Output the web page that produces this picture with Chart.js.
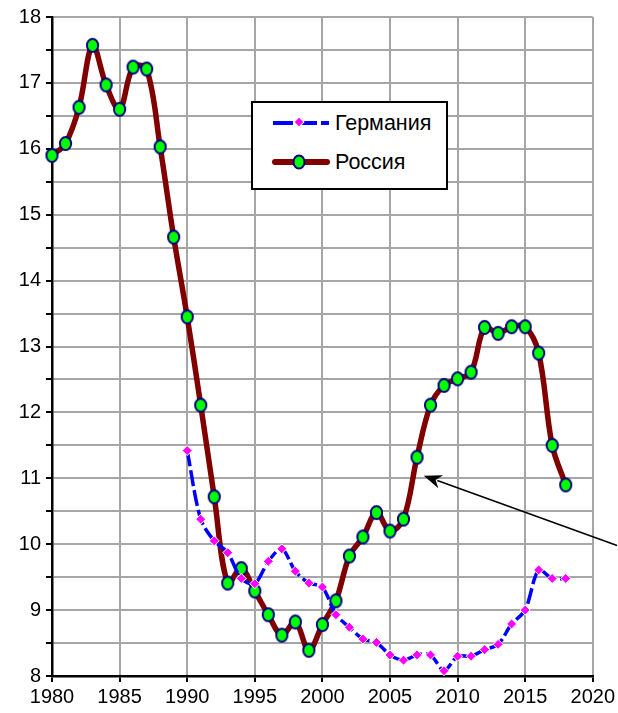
<!DOCTYPE html>
<html>
<head>
<meta charset="utf-8">
<script src="https://cdn.jsdelivr.net/npm/chart.js@4.4.1/dist/chart.umd.min.js"></script>
<style>
  html, body { margin: 0; padding: 0; background: #fff; }
  #wrap { position: relative; width: 618px; height: 713px; }
  #legend {
    position: absolute; left: 251px; top: 101px; width: 193px; height: 85px;
    border: 2px solid #000; background: #fff;
    font-family: "Liberation Sans", Arial, sans-serif; font-size: 21.5px; color: #000;
  }
  #legend .row { position: absolute; left: 0; height: 26px; display: flex; align-items: center; }
  #legend svg { margin-left: 19px; margin-right: 5px; }
</style>
</head>
<body>
<div id="wrap">
  <canvas id="chart" width="618" height="713"></canvas>
  <div id="legend">
    <div class="row" style="top:7px">
      <svg width="58" height="14"><line x1="1" y1="7" x2="57" y2="7" stroke="#0000ff" stroke-width="4" stroke-dasharray="20,4"/><rect x="23.5" y="2.5" width="7" height="7" fill="#ff00ff" stroke="#fff" stroke-width="1" transform="rotate(45 27 6)"/></svg>
      <span>Германия</span>
    </div>
    <div class="row" style="top:46px">
      <svg width="58" height="16"><line x1="3" y1="8" x2="55" y2="8" stroke="#800000" stroke-width="6" stroke-linecap="round"/><ellipse cx="27" cy="8" rx="5.5" ry="6.5" fill="#00ff00" stroke="#000080" stroke-width="2"/></svg>
      <span>Россия</span>
    </div>
  </div>
</div>
<script>
const russiaYears = [1980, 1981, 1982, 1983, 1984, 1985, 1986, 1987, 1988, 1989,
  1990, 1991, 1992, 1993, 1994, 1995, 1996, 1997, 1998, 1999,
  2000, 2001, 2002, 2003, 2004, 2005, 2006, 2007, 2008, 2009,
  2010, 2011, 2012, 2013, 2014, 2015, 2016, 2017, 2018];
const russiaValues = [15.90, 16.08, 16.63, 17.57, 16.97, 16.60, 17.24, 17.21, 16.03, 14.66,
  13.45, 12.11, 10.72, 9.41, 9.63, 9.29, 8.93, 8.62, 8.82, 8.39,
  8.78, 9.14, 9.82, 10.11, 10.48, 10.20, 10.38, 11.32, 12.11, 12.41,
  12.51, 12.61, 13.29, 13.20, 13.30, 13.30, 12.90, 11.50, 10.90];

const germanyYears = [1990, 1991, 1992, 1993, 1994, 1995, 1996, 1997, 1998, 1999,
  2000, 2001, 2002, 2003, 2004, 2005, 2006, 2007, 2008, 2009,
  2010, 2011, 2012, 2013, 2014, 2015, 2016, 2017, 2018];
const germanyValues = [11.42, 10.38, 10.05, 9.87, 9.48, 9.40, 9.74, 9.93, 9.59, 9.41,
  9.35, 8.93, 8.74, 8.56, 8.51, 8.32, 8.24, 8.32, 8.32, 8.08,
  8.30, 8.30, 8.40, 8.48, 8.79, 9.00, 9.61, 9.48, 9.48];

const yTickLabels = [8, 9, 10, 11, 12, 13, 14, 15, 16, 17, 18];
const xTickLabels = [1980, 1985, 1990, 1995, 2000, 2005, 2010, 2015, 2020];

// arrow annotation, in data units (tail runs off the right edge)
const arrowHead = { x: 2007.5, y: 11.04 };
const arrowTail = { x: 2021.8, y: 9.98 };

function toPoints(xs, ys) {
  return xs.map((x, i) => ({ x: x, y: ys[i] }));
}

// green ellipse marker for Russia
const dot = document.createElement('canvas');
dot.width = 15; dot.height = 17;
(function () {
  const c = dot.getContext('2d');
  c.beginPath();
  c.ellipse(7.5, 8.5, 5.6, 6.6, 0, 0, Math.PI * 2);
  c.fillStyle = '#00ff00';
  c.fill();
  c.lineWidth = 2;
  c.strokeStyle = '#000080';
  c.stroke();
})();

const arrowPlugin = {
  id: 'arrow',
  afterDatasetsDraw(chart) {
    const ctx = chart.ctx;
    const xs = chart.scales.x, ys = chart.scales.y;
    const hx = xs.getPixelForValue(arrowHead.x), hy = ys.getPixelForValue(arrowHead.y);
    const tx = xs.getPixelForValue(arrowTail.x), ty = ys.getPixelForValue(arrowTail.y);
    const ang = Math.atan2(hy - ty, hx - tx);
    const len = 18, wid = 7;
    ctx.save();
    ctx.strokeStyle = '#000';
    ctx.fillStyle = '#000';
    ctx.lineWidth = 1.6;
    ctx.beginPath();
    ctx.moveTo(tx, ty);
    ctx.lineTo(hx - Math.cos(ang) * len * 0.8, hy - Math.sin(ang) * len * 0.8);
    ctx.stroke();
    ctx.beginPath();
    ctx.moveTo(hx, hy);
    ctx.lineTo(hx - Math.cos(ang) * len - Math.sin(ang) * wid, hy - Math.sin(ang) * len + Math.cos(ang) * wid);
    ctx.lineTo(hx - Math.cos(ang) * len * 0.7, hy - Math.sin(ang) * len * 0.7);
    ctx.lineTo(hx - Math.cos(ang) * len + Math.sin(ang) * wid, hy - Math.sin(ang) * len - Math.cos(ang) * wid);
    ctx.closePath();
    ctx.fill();
    ctx.restore();
  }
};

Chart.defaults.font.family = '"Liberation Sans", Arial, sans-serif';
Chart.defaults.color = '#000';

const ctx = document.getElementById('chart').getContext('2d');
const chart = new Chart(ctx, {
  type: 'line',
  data: {
    datasets: [
      {
        label: 'Россия',
        data: toPoints(russiaYears, russiaValues),
        borderColor: '#800000',
        borderWidth: 5.5,
        tension: 0.35,
        pointStyle: dot,
        pointRadius: 7,
        clip: false,
        order: 2
      },
      {
        label: 'Германия',
        data: toPoints(germanyYears, germanyValues),
        borderColor: '#0000ff',
        borderWidth: 3.5,
        borderDash: [16, 4],
        tension: 0.3,
        pointStyle: 'rectRot',
        pointRadius: 5,
        pointBackgroundColor: '#ff00ff',
        pointBorderColor: '#ffffff',
        pointBorderWidth: 1,
        clip: false,
        order: 1
      }
    ]
  },
  options: {
    responsive: false,
    animation: false,
    layout: { padding: { top: 17, right: 25, left: 0, bottom: 0 } },
    plugins: { legend: { display: false }, tooltip: { enabled: false } },
    scales: {
      x: {
        type: 'linear',
        min: 1980,
        max: 2020,
        afterBuildTicks(scale) {
          scale.ticks = xTickLabels.map(v => ({ value: v }));
        },
        afterFit(scale) { scale.height = 37; },
        grid: { color: '#a6a6a6', lineWidth: 2, tickColor: '#000', tickLength: 6, tickWidth: 2 },
        border: { color: '#000', width: 2.5 },
        ticks: {
          font: { size: 20 },
          maxRotation: 0,
          autoSkip: false,
          padding: 3,
          callback: v => String(v)
        }
      },
      y: {
        min: 8,
        max: 18,
        afterBuildTicks(scale) {
          const t = [];
          for (let v = yTickLabels[0]; v <= yTickLabels[yTickLabels.length - 1]; v += 0.5) t.push({ value: v });
          scale.ticks = t;
        },
        afterFit(scale) { scale.width = 52; },
        grid: { color: '#a6a6a6', lineWidth: 2, tickColor: '#000', tickLength: 6, tickWidth: 2 },
        border: { color: '#000', width: 2.5 },
        ticks: {
          font: { size: 20 },
          padding: 5,
          autoSkip: false,
          callback: v => (yTickLabels.includes(v) ? String(v) : '')
        }
      }
    }
  },
  plugins: [arrowPlugin]
});
</script>
</body>
</html>
